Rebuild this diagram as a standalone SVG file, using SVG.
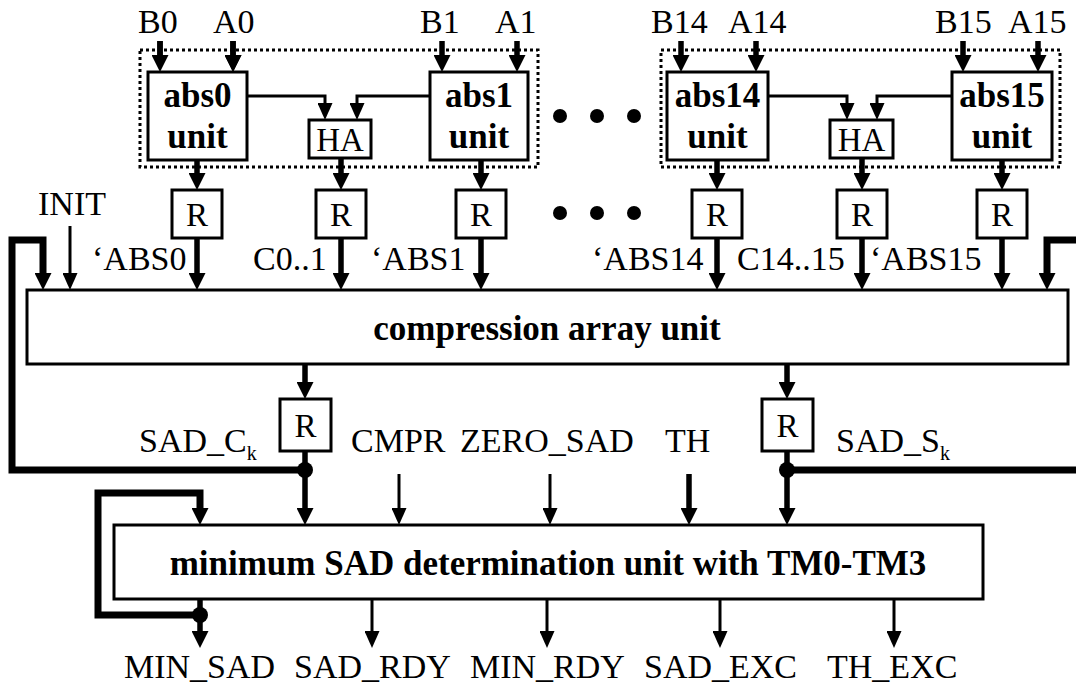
<svg xmlns="http://www.w3.org/2000/svg" width="1076" height="686" viewBox="0 0 1076 686">
<style>
.lbl{font-family:"Liberation Serif","Times New Roman",serif;font-size:34px;fill:#000}
.b{font-family:"Liberation Serif","Times New Roman",serif;font-weight:bold;font-size:35px;fill:#000;text-anchor:middle}
.r{font-family:"Liberation Serif","Times New Roman",serif;font-size:33px;fill:#000;text-anchor:middle}
.box{fill:#fff;stroke:#000;stroke-width:3}
.dot{fill:none;stroke:#000;stroke-width:3;stroke-dasharray:3 3}
.thick{fill:none;stroke:#000;stroke-width:5.5}
.thin{fill:none;stroke:#000;stroke-width:3}
.fb{fill:none;stroke:#000;stroke-width:7;stroke-linejoin:miter}
</style>
<defs>
<marker id="ak" markerUnits="userSpaceOnUse" markerWidth="17" markerHeight="17" refX="2" refY="8.5" orient="auto"><path d="M0,0 L17,8.5 L0,17 z" fill="#000"/></marker>
<marker id="an" markerUnits="userSpaceOnUse" markerWidth="17" markerHeight="15" refX="2" refY="7.5" orient="auto"><path d="M0,0 L17,7.5 L0,15 z" fill="#000"/></marker>
</defs>
<rect width="1076" height="686" fill="#fff"/>

<g id="connectors">
<!-- top inputs -->
<path class="thick" marker-end="url(#ak)" d="M160,41 V57 M233,41 V57"/>
<path class="thick" marker-end="url(#ak)" d="M233,41 V57"/>
<path class="thick" marker-end="url(#ak)" d="M442,41 V57"/>
<path class="thick" marker-end="url(#ak)" d="M517,41 V57"/>
<path class="thick" marker-end="url(#ak)" d="M681,41 V57"/>
<path class="thick" marker-end="url(#ak)" d="M756,41 V57"/>
<path class="thick" marker-end="url(#ak)" d="M963,41 V57"/>
<path class="thick" marker-end="url(#ak)" d="M1038,41 V57"/>
<path class="thick" marker-end="url(#ak)" d="M160,41 V57"/>
<!-- to HA -->
<path class="thin" marker-end="url(#an)" d="M247,96 H325 V105"/>
<path class="thin" marker-end="url(#an)" d="M430,96 H357 V105"/>
<path class="thin" marker-end="url(#an)" d="M768,96 H847 V105"/>
<path class="thin" marker-end="url(#an)" d="M952,96 H877 V105"/>
<!-- to R -->
<path class="thick" marker-end="url(#ak)" d="M197,160 V175"/>
<path class="thick" marker-end="url(#ak)" d="M341,158 V175"/>
<path class="thick" marker-end="url(#ak)" d="M481,160 V175"/>
<path class="thick" marker-end="url(#ak)" d="M717,160 V175"/>
<path class="thick" marker-end="url(#ak)" d="M862,158 V175"/>
<path class="thick" marker-end="url(#ak)" d="M1002,160 V175"/>
<!-- R to compression -->
<path class="thick" marker-end="url(#ak)" d="M197,238 V275"/>
<path class="thick" marker-end="url(#ak)" d="M341,238 V275"/>
<path class="thick" marker-end="url(#ak)" d="M481,238 V275"/>
<path class="thick" marker-end="url(#ak)" d="M717,238 V275"/>
<path class="thick" marker-end="url(#ak)" d="M862,238 V275"/>
<path class="thick" marker-end="url(#ak)" d="M1002,238 V275"/>
<path class="thin" marker-end="url(#an)" d="M70,226 V275"/>
<!-- feedback -->
<path class="fb" marker-end="url(#ak)" d="M305,470 H12 V240 H43 V275"/>
<path class="fb" marker-end="url(#ak)" d="M1076,240 H1047 V275"/>
<path class="fb" d="M787,470 H1076"/>
<!-- compression to R -->
<path class="thick" marker-end="url(#ak)" d="M305,364 V384"/>
<path class="thick" marker-end="url(#ak)" d="M787,364 V384"/>
<!-- R to min -->
<path class="thick" marker-end="url(#ak)" d="M305,451 V510"/>
<path class="thick" marker-end="url(#ak)" d="M787,451 V510"/>
<circle cx="305" cy="470" r="8" fill="#000"/>
<circle cx="787" cy="470" r="8" fill="#000"/>
<path class="thin" marker-end="url(#an)" d="M399,474 V510"/>
<path class="thin" marker-end="url(#an)" d="M550,474 V510"/>
<path class="thick" marker-end="url(#ak)" d="M689,474 V510"/>
<!-- min loop -->
<path class="fb" marker-end="url(#ak)" d="M200,615 H98 V493 H200 V510"/>
<circle cx="200" cy="615" r="8" fill="#000"/>
<!-- outputs -->
<path class="thick" marker-end="url(#ak)" d="M200,599 V633"/>
<path class="thin" marker-end="url(#an)" d="M372,599 V633"/>
<path class="thin" marker-end="url(#an)" d="M547,599 V633"/>
<path class="thin" marker-end="url(#an)" d="M720,599 V633"/>
<path class="thin" marker-end="url(#an)" d="M894,599 V633"/>
</g>

<g id="group0-1"><rect class="dot" x="140" y="50" width="398" height="117"/></g>
<g id="group14-15"><rect class="dot" x="661" y="50" width="399" height="117"/></g>

<g id="abs0"><rect class="box" x="148" y="72" width="99" height="88"/><text class="b" x="197.5" y="107">abs0</text><text class="b" x="197.5" y="148">unit</text></g>
<g id="abs1"><rect class="box" x="430" y="72" width="98" height="88"/><text class="b" x="479" y="107">abs1</text><text class="b" x="479" y="148">unit</text></g>
<g id="abs14"><rect class="box" x="667" y="72" width="101" height="88"/><text class="b" x="717.5" y="107">abs14</text><text class="b" x="717.5" y="148">unit</text></g>
<g id="abs15"><rect class="box" x="952" y="72" width="100" height="88"/><text class="b" x="1002" y="107">abs15</text><text class="b" x="1002" y="148">unit</text></g>

<g id="ha0"><rect class="box" x="309" y="120" width="62" height="38"/><text class="r" x="340" y="151">HA</text></g>
<g id="ha14"><rect class="box" x="830" y="120" width="63" height="38"/><text class="r" x="861.5" y="151">HA</text></g>

<g id="r0"><rect class="box" x="172" y="190" width="50" height="48"/><text class="r" x="197" y="226">R</text></g>
<g id="rc0"><rect class="box" x="316" y="190" width="50" height="48"/><text class="r" x="341" y="226">R</text></g>
<g id="r1"><rect class="box" x="456" y="190" width="50" height="48"/><text class="r" x="481" y="226">R</text></g>
<g id="r14"><rect class="box" x="692" y="190" width="50" height="48"/><text class="r" x="717" y="226">R</text></g>
<g id="rc14"><rect class="box" x="837" y="190" width="50" height="48"/><text class="r" x="862" y="226">R</text></g>
<g id="r15"><rect class="box" x="977" y="190" width="50" height="48"/><text class="r" x="1002" y="226">R</text></g>

<g id="ellipsis">
<circle cx="560" cy="116" r="7"/><circle cx="597" cy="116" r="7"/><circle cx="634" cy="116" r="7"/>
<circle cx="560" cy="213" r="7"/><circle cx="597" cy="213" r="7"/><circle cx="634" cy="213" r="7"/>
</g>

<g id="compression"><rect class="box" x="27" y="290" width="1041" height="74"/><text class="b" x="547" y="340">compression array unit</text></g>

<g id="rsc"><rect class="box" x="280" y="399" width="51" height="52"/><text class="r" x="305.5" y="437">R</text></g>
<g id="rss"><rect class="box" x="762" y="399" width="51" height="52"/><text class="r" x="787.5" y="437">R</text></g>

<g id="minsad"><rect class="box" x="114" y="525" width="869" height="74"/><text class="b" x="548" y="575">minimum SAD determination unit with TM0-TM3</text></g>

<g id="labels">
<text class="lbl" x="138" y="33">B0</text>
<text class="lbl" x="213" y="33">A0</text>
<text class="lbl" x="420" y="33">B1</text>
<text class="lbl" x="495" y="33">A1</text>
<text class="lbl" x="651" y="33">B14</text>
<text class="lbl" x="728" y="33">A14</text>
<text class="lbl" x="935" y="33">B15</text>
<text class="lbl" x="1008" y="33">A15</text>
<text class="lbl" x="38" y="215">INIT</text>
<text class="lbl" x="92" y="270">‘ABS0</text>
<text class="lbl" x="253" y="270">C0..1</text>
<text class="lbl" x="371" y="270">‘ABS1</text>
<text class="lbl" x="592" y="270">‘ABS14</text>
<text class="lbl" x="737" y="270">C14..15</text>
<text class="lbl" x="870" y="270">‘ABS15</text>
<text class="lbl" x="139" y="452">SAD_C<tspan font-size="20" dy="8">k</tspan></text>
<text class="lbl" x="351" y="452">CMPR</text>
<text class="lbl" x="460" y="452">ZERO_SAD</text>
<text class="lbl" x="665" y="452">TH</text>
<text class="lbl" x="836" y="452">SAD_S<tspan font-size="20" dy="8">k</tspan></text>
<text class="lbl" x="124" y="678">MIN_SAD</text>
<text class="lbl" x="294" y="678">SAD_RDY</text>
<text class="lbl" x="470" y="678">MIN_RDY</text>
<text class="lbl" x="644" y="678">SAD_EXC</text>
<text class="lbl" x="827" y="678">TH_EXC</text>
</g>
</svg>
